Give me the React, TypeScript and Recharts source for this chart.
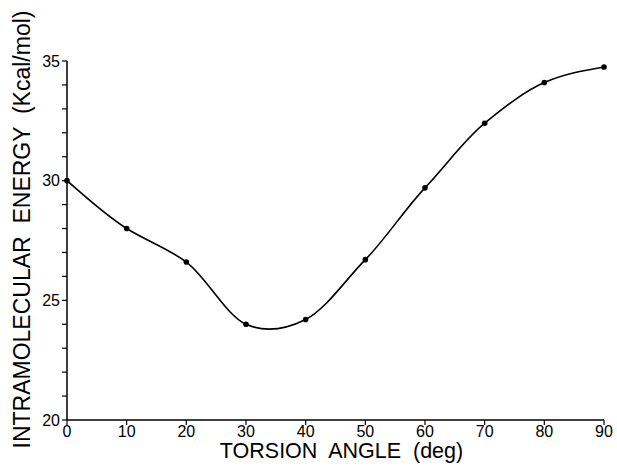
import React from "react";
import { LineChart, Line, XAxis, YAxis } from "recharts";

// torsion angle (deg) vs intramolecular energy (kcal/mol)
const angles = [0, 10, 20, 30, 40, 50, 60, 70, 80, 90];
const energies = [30.0, 28.0, 26.6, 24.0, 24.2, 26.7, 29.7, 32.4, 34.1, 34.75];

const xTicks = [0, 10, 20, 30, 40, 50, 60, 70, 80, 90];
const yTicks = [20, 21, 22, 23, 24, 25, 26, 27, 28, 29, 30, 31, 32, 33, 34, 35];

const data = angles.map((a, i) => ({ angle: a, energy: energies[i] }));

const FONT = "'Liberation Sans', Arial, Helvetica, sans-serif";
const INK = "#000";

// Hermite spline through the points: scaled central-difference tangents,
// free (zero curvature) ends. Used as a d3-style curve factory.
function smoothCurve(scale: number) {
  return (ctx: any) => {
    let xs: number[] = [];
    let ys: number[] = [];
    return {
      areaStart() {},
      areaEnd() {},
      lineStart() {
        xs = [];
        ys = [];
      },
      point(x: number, y: number) {
        xs.push(+x);
        ys.push(+y);
      },
      lineEnd() {
        const n = xs.length;
        if (n === 0) return;
        ctx.moveTo(xs[0], ys[0]);
        if (n === 1) return;
        if (n === 2) {
          ctx.lineTo(xs[1], ys[1]);
          return;
        }
        const m: number[] = new Array(n).fill(0);
        for (let i = 1; i < n - 1; i++) {
          m[i] = (scale * (ys[i + 1] - ys[i - 1])) / (xs[i + 1] - xs[i - 1]);
        }
        const h0 = xs[1] - xs[0];
        m[0] = (3 * (ys[1] - ys[0]) / h0 - m[1]) / 2;
        const hn = xs[n - 1] - xs[n - 2];
        m[n - 1] = (3 * (ys[n - 1] - ys[n - 2]) / hn - m[n - 2]) / 2;
        for (let i = 0; i < n - 1; i++) {
          const h = xs[i + 1] - xs[i];
          ctx.bezierCurveTo(
            xs[i] + h / 3,
            ys[i] + (m[i] * h) / 3,
            xs[i + 1] - h / 3,
            ys[i + 1] - (m[i + 1] * h) / 3,
            xs[i + 1],
            ys[i + 1]
          );
        }
      },
    };
  };
}

function YTitle({ viewBox }: any) {
  const cx = viewBox.x + 22;
  const cy = viewBox.y + viewBox.height / 2 - 11;
  return (
    <text
      x={cx}
      y={cy}
      transform={`rotate(-90 ${cx} ${cy})`}
      textAnchor="middle"
      dominantBaseline="central"
      fontFamily={FONT}
      fontSize={23}
      fill={INK}
      style={{ whiteSpace: "pre" }}
    >
      {"INTRAMOLECULAR  ENERGY  (Kcal/mol)"}
    </text>
  );
}

function XTitle({ viewBox }: any) {
  const cx = viewBox.x + viewBox.width / 2 + 6;
  return (
    <text
      x={cx}
      y={458}
      textAnchor="middle"
      fontFamily={FONT}
      fontSize={21.5}
      fill={INK}
      style={{ whiteSpace: "pre" }}
    >
      {"TORSION  ANGLE  (deg)"}
    </text>
  );
}

export default function App() {
  return (
    <div style={{ position: "absolute", left: 0, top: 0, background: "#fff" }}>
      <LineChart
        width={617}
        height={467}
        data={data}
        margin={{ top: 61, right: 13, bottom: 0, left: 0 }}
      >
        <XAxis
          dataKey="angle"
          type="number"
          domain={[0, 90]}
          ticks={xTicks}
          interval={0}
          height={47}
          tickSize={5}
          tickMargin={1}
          axisLine={{ stroke: INK, strokeWidth: 1.5 }}
          tickLine={{ stroke: INK, strokeWidth: 1.2 }}
          tick={{ fill: INK, fontSize: 16, fontFamily: FONT }}
          label={<XTitle />}
        />
        <YAxis
          type="number"
          domain={[20, 35]}
          ticks={yTicks}
          interval={0}
          width={67}
          tickSize={5}
          tickMargin={2}
          tickFormatter={(v: number) => (v % 5 === 0 ? String(v) : "")}
          axisLine={{ stroke: INK, strokeWidth: 1.5 }}
          tickLine={{ stroke: INK, strokeWidth: 1.2 }}
          tick={{ fill: INK, fontSize: 16, fontFamily: FONT }}
          label={<YTitle />}
        />
        <Line
          dataKey="energy"
          type={smoothCurve(0.92) as any}
          stroke={INK}
          strokeWidth={1.6}
          dot={{ r: 2.8, fill: INK, stroke: INK, strokeWidth: 0 }}
          isAnimationActive={false}
        />
      </LineChart>
    </div>
  );
}
